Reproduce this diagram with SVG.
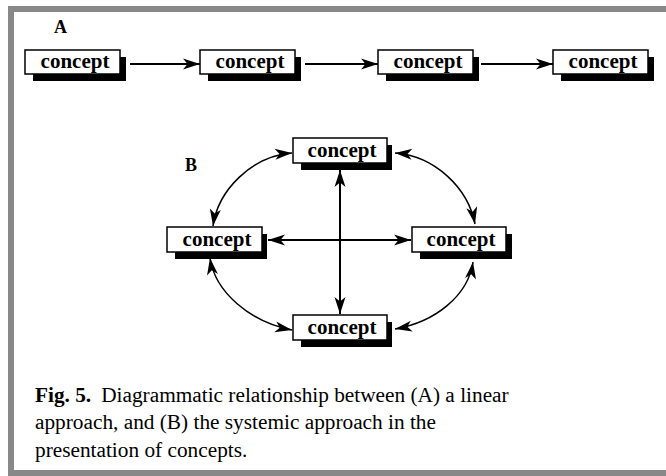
<svg xmlns="http://www.w3.org/2000/svg" width="666" height="476" viewBox="0 0 666 476">
<defs>
<style>
.box{fill:#fff;stroke:#000;stroke-width:1.5}
.sh{fill:#000}
.lbl{font-family:"Liberation Serif","Times New Roman",serif;font-weight:bold;font-size:21px;fill:#000;text-anchor:middle}
.tag{font-family:"Liberation Serif","Times New Roman",serif;font-weight:bold;font-size:18px;fill:#000}
.cap{font-family:"Liberation Serif","Times New Roman",serif;font-size:21.3px;fill:#000}
.ln{fill:none;stroke:#000;stroke-width:2}
.cv{fill:none;stroke:#000;stroke-width:1.5}
</style>
<marker id="ah" markerUnits="userSpaceOnUse" markerWidth="22" markerHeight="14" viewBox="-1 -7 22 14" refX="17" refY="0" orient="auto-start-reverse">
<path d="M0,-5.5 L17,0 L0,5.5 L4.5,0 Z" fill="#000"/>
</marker>
</defs>
<rect x="0" y="0" width="666" height="476" fill="#fff"/>
<path d="M670,9 H11 V473 H670" fill="none" stroke="#888" stroke-width="6"/>
<text class="tag" x="54" y="33">A</text>
<text class="tag" x="185" y="171">B</text>
<g id="connectors">
<line class="ln" x1="130" y1="64" x2="200" y2="64" marker-end="url(#ah)"/>
<line class="ln" x1="305" y1="64" x2="378" y2="64" marker-end="url(#ah)"/>
<line class="ln" x1="481" y1="64" x2="553" y2="64" marker-end="url(#ah)"/>
<line class="ln" x1="340" y1="170" x2="340" y2="314" marker-start="url(#ah)" marker-end="url(#ah)"/>
<line class="ln" x1="268" y1="240" x2="411" y2="240" marker-start="url(#ah)" marker-end="url(#ah)"/>
<path class="cv" d="M213,226 C218,190 252,156 292,153" marker-start="url(#ah)" marker-end="url(#ah)"/>
<path class="cv" d="M395,153 C435,156 468,188 475,224" marker-start="url(#ah)" marker-end="url(#ah)"/>
<path class="cv" d="M210,258 C215,292 250,322 292,330" marker-start="url(#ah)" marker-end="url(#ah)"/>
<path class="cv" d="M473,262 C468,296 435,322 395,329" marker-start="url(#ah)" marker-end="url(#ah)"/>
</g>
<g id="a1"><rect class="sh" x="33" y="57" width="93" height="24"/><rect class="box" x="25" y="50" width="95" height="24"/><text class="lbl" x="75" y="68">concept</text></g>
<g id="a2"><rect class="sh" x="208" y="57" width="93" height="24"/><rect class="box" x="200" y="50" width="95" height="24"/><text class="lbl" x="250" y="68">concept</text></g>
<g id="a3"><rect class="sh" x="386" y="57" width="93" height="24"/><rect class="box" x="378" y="50" width="95" height="24"/><text class="lbl" x="428" y="68">concept</text></g>
<g id="a4"><rect class="sh" x="561" y="57" width="93" height="24"/><rect class="box" x="553" y="50" width="95" height="24"/><text class="lbl" x="603" y="68">concept</text></g>
<g id="b-top"><rect class="sh" x="301" y="145" width="91" height="25"/><rect class="box" x="293" y="138" width="94" height="25"/><text class="lbl" x="342" y="157">concept</text></g>
<g id="b-left"><rect class="sh" x="175" y="234" width="92" height="25"/><rect class="box" x="167" y="227" width="95" height="25"/><text class="lbl" x="217" y="246">concept</text></g>
<g id="b-right"><rect class="sh" x="420" y="234" width="92" height="25"/><rect class="box" x="412" y="227" width="94" height="25"/><text class="lbl" x="461" y="246">concept</text></g>
<g id="b-bottom"><rect class="sh" x="301" y="322" width="91" height="25"/><rect class="box" x="293" y="315" width="94" height="25"/><text class="lbl" x="342" y="334">concept</text></g>
<text class="cap" x="35" y="402"><tspan font-weight="bold">Fig. 5.</tspan><tspan dx="10">Diagrammatic relationship between (A) a linear</tspan></text>
<text class="cap" x="35" y="429">approach, and (B) the systemic approach in the</text>
<text class="cap" x="35" y="457">presentation of concepts.</text>
</svg>
